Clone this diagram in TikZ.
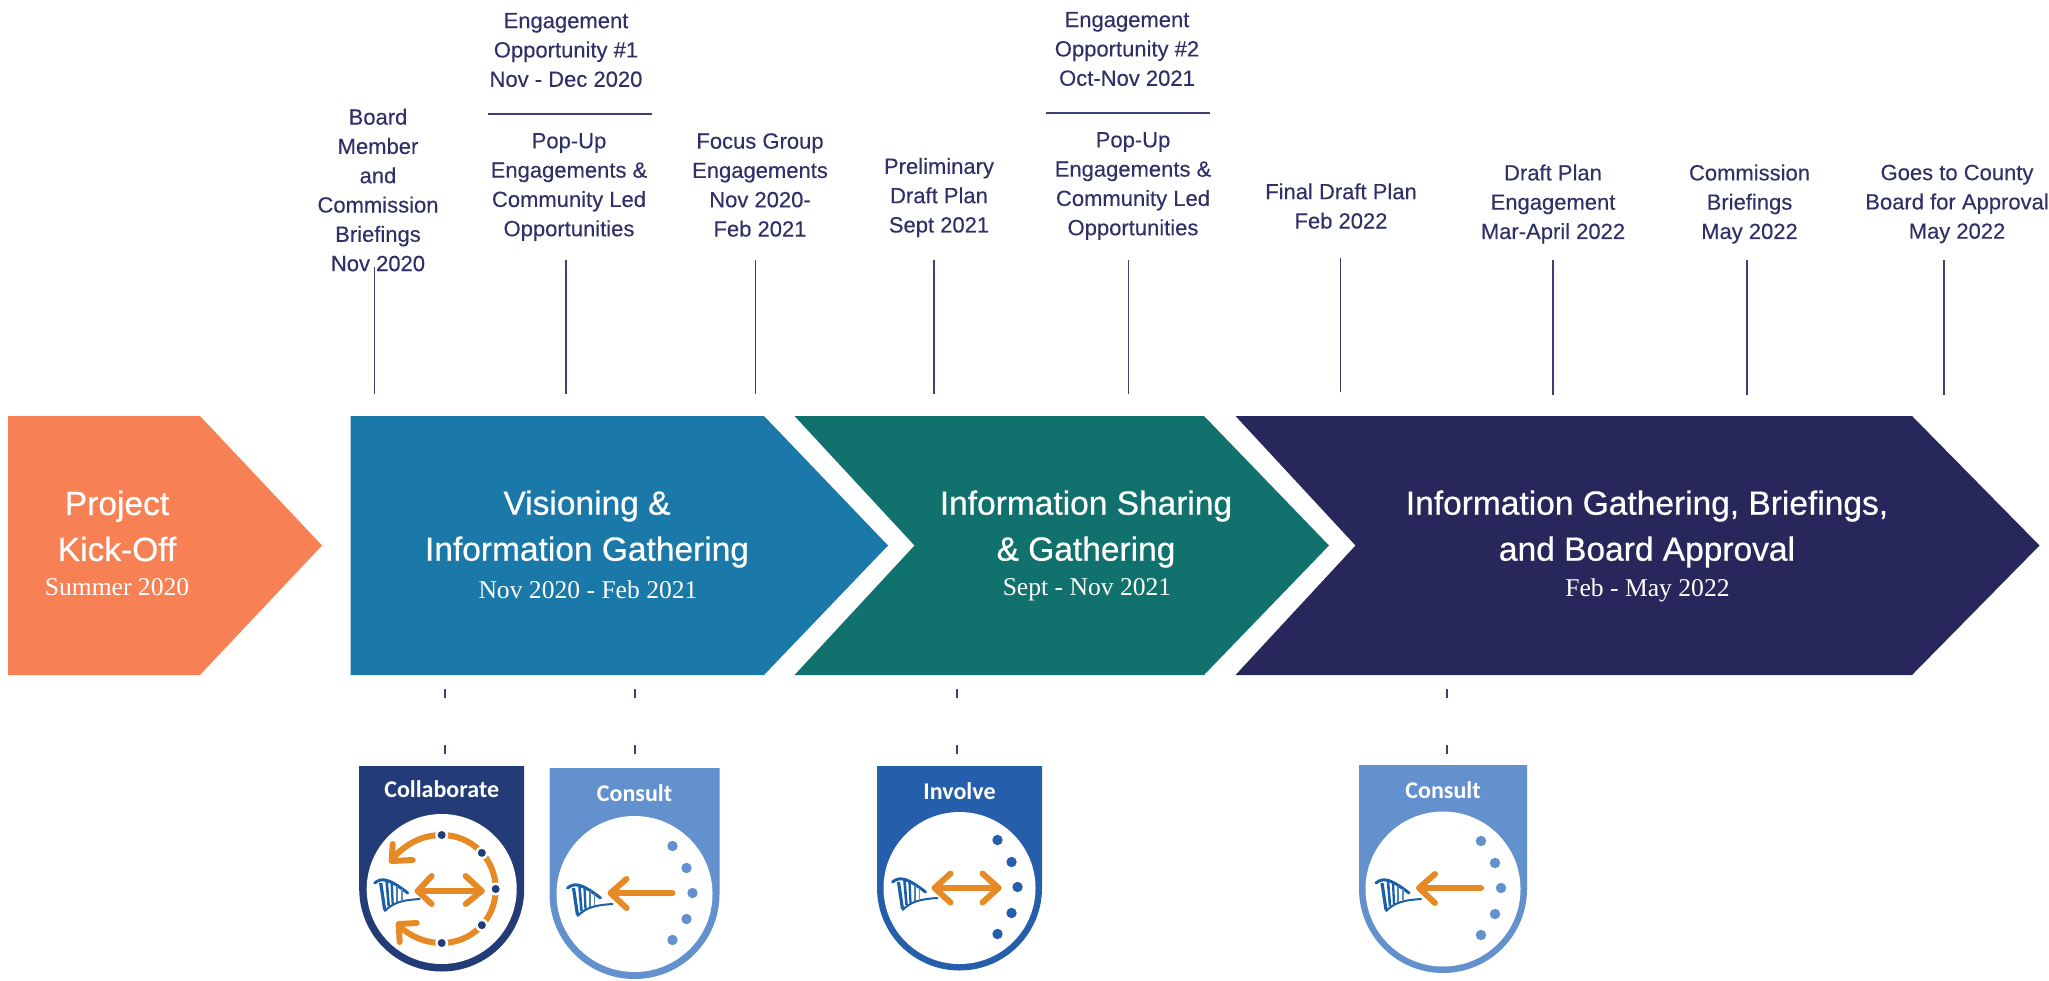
\documentclass[tikz,border=0pt]{standalone}
\usepackage{fontspec}
\usepackage{xcolor}
\usepackage{tikz}
\setmainfont{Liberation Sans}
\newfontfamily\labelfont[FakeBold=0.25]{Liberation Sans}
\newfontfamily\headfont[FakeBold=0.6]{Liberation Sans}
\newfontfamily\subfont{Liberation Serif}
\newfontfamily\badgefont{Carlito}
\definecolor{kickoff}{HTML}{F78154}
\definecolor{vision}{HTML}{1B79A9}
\definecolor{sharing}{HTML}{10716D}
\definecolor{approval}{HTML}{28275B}
\definecolor{inktext}{HTML}{2F3068}
\definecolor{tickline}{HTML}{3D4074}
\definecolor{collabcol}{HTML}{233C78}
\definecolor{consultcol}{HTML}{6391CD}
\definecolor{involvecol}{HTML}{255FAB}
\definecolor{arrowcol}{HTML}{E68A25}
\definecolor{logocol}{HTML}{1B5FA8}
\tikzset{
	toplabel/.style={text=inktext, align=center, inner sep=0pt, font=\labelfont\fontsize{22}{29.3}\selectfont},
	headlabel/.style={text=white, align=center, inner sep=0pt, font=\headfont\fontsize{33.5}{46}\selectfont},
	sublabel/.style={text=white, inner sep=0pt, font=\subfont\fontsize{25.6}{30}\selectfont},
	ticktop/.style={draw=tickline, line width=1.3pt},
	tickbelow/.style={draw=tickline, line width=1.3pt, dash pattern=on 9pt off 47pt},
	orangeline/.style={draw=arrowcol, line width=6pt, line cap=round, line join=round},
	badgelabel/.style={text=white, inner sep=0pt, font=\badgefont\bfseries\fontsize{24}{28}\selectfont}
}
% logo in the badge, origin at the centre of the white circle
\newcommand{\capitollogo}{
	\draw[logocol, line width=3pt, line cap=round] (-67,-6) .. controls (-60,-12) and (-52,-10) .. (-34,4);
	\draw[logocol, line width=3.2pt] (-61,-6) -- (-57,21);
	\draw[logocol, line width=2.6pt] (-55,-7) -- (-53,17);
	\draw[logocol, line width=2.3pt] (-50,-6) -- (-49,15);
	\draw[logocol!80, line width=2pt] (-45,-3) -- (-45,13);
	\draw[logocol!70, line width=1.7pt] (-40,0) -- (-40,11);
	\draw[logocol, line width=2pt, line cap=round] (-57,22) .. controls (-48,13) and (-38,11) .. (-22,10);
}
% arrow to the left only
\newcommand{\inarrow}{
	\draw[orangeline] (-23,-1) -- (38,-1);
	\draw[orangeline] (-8,-15) -- (-24,-1) -- (-8,14);
}
% arrow both ways
\newcommand{\botharrow}{
	\draw[orangeline] (-24,0) -- (39,0);
	\draw[orangeline] (-9,-14.5) -- (-25,0) -- (-9,14.5);
	\draw[orangeline] (23,-14.5) -- (39,0) -- (23,14.5);
}
% dots of the public at the right
\newcommand{\publicdots}[1]{
	\foreach \x/\y in {38/-48, 52/-26, 58/-1, 52/25, 38/46}
	\fill[#1] (\x,\y) circle (5.2);
}
% #1 x, #2 y of the circle, #3 outer radius, #4 top, #5 white radius, #6 colour, #7 name, #8 text, #9 text y
\newcommand{\badge}[9]{
	\fill[#6] (#1-#3,#4) -- (#1+#3,#4) -- (#1+#3,#2) .. controls (#1+#3,#2+0.5523*#3) and (#1+0.5523*#3,#2+#3) .. (#1,#2+#3) .. controls (#1-0.5523*#3,#2+#3) and (#1-#3,#2+0.5523*#3) .. (#1-#3,#2) -- cycle;
	\fill[white] (#1,#2) circle (#5);
	\node[badgelabel] (#7) at (#1,#9) {#8};
}
\begin{document}
\begin{tikzpicture}[x=1pt, y=-1pt]
	\useasboundingbox (0,0) rectangle (2049,980);
	
	\fill[kickoff] (8,416) -- (200,416) -- (322,545.5) -- (200,675) -- (8,675) -- cycle;
	\fill[vision] (350.5,416) -- (764,416) -- (888,545.5) -- (764,675) -- (350.5,675) -- cycle;
	\fill[sharing] (794.5,416) -- (1204,416) -- (1329,545.5) -- (1204,675) -- (794.5,675) -- (914.5,545.5) -- cycle;
	\fill[approval] (1235.5,416) -- (1912,416) -- (2039.5,545.5) -- (1912,675) -- (1235.5,675) -- (1355.5,545.5) -- cycle;
	
	\node[headlabel] (kickoffname) at (117,526) {Project\\Kick-Off};
	\node[sublabel] (kickoffdate) at (117,587) {Summer 2020};
	\node[headlabel] (visionname) at (587,529) {Visioning \&\\Information Gathering};
	\node[sublabel] (visiondate) at (588,590) {Nov 2020 - Feb 2021};
	\node[headlabel] (sharingname) at (1086,529) {Information Sharing\\\& Gathering};
	\node[sublabel] (sharingdate) at (1087,590) {Sept - Nov 2021};
	\node[headlabel] (approvalname) at (1647,529) {Information Gathering, Briefings,\\and Board Approval};
	\node[sublabel] (approvaldate) at (1647.5,590) {Feb - May 2022};
	
	\node[toplabel] (board) at (378,190) {Board\\Member\\and\\Commission\\Briefings\\Nov 2020};
	\node[toplabel] (engageone) at (566,50) {Engagement\\Opportunity \#1\\Nov - Dec 2020};
	\node[toplabel] (popupone) at (569,187) {Pop-Up\\Engagements \&\\Community Led\\Opportunities};
	\node[toplabel] (focus) at (760,185) {Focus Group\\Engagements\\Nov 2020-\\Feb 2021};
	\node[toplabel] (prelim) at (939,197.5) {Preliminary\\Draft Plan\\Sept 2021};
	\node[toplabel] (engagetwo) at (1127,49) {Engagement\\Opportunity \#2\\Oct-Nov 2021};
	\node[toplabel] (popuptwo) at (1133,186) {Pop-Up\\Engagements \&\\Community Led\\Opportunities};
	\node[toplabel] (final) at (1341,206) {Final Draft Plan\\Feb 2022};
	\node[toplabel] (draftplan) at (1553,204) {Draft Plan\\Engagement\\Mar-April 2022};
	\node[toplabel] (commission) at (1749.5,204) {Commission\\Briefings\\May 2022};
	\node[toplabel] (county) at (1957,204) {Goes to County\\Board for Approval\\May 2022};
	
	\coordinate (ruleonea) at (488,114);
	\coordinate (ruleoneb) at (652,114);
	\coordinate (ruletwoa) at (1045.5,113);
	\coordinate (ruletwob) at (1209.5,113);
	\draw[ticktop] (ruleonea) -- (ruleoneb);
	\draw[ticktop] (ruletwoa) -- (ruletwob);
	
	\foreach \n/\x/\ya/\yb in {a/374.6/267/394, b/566/260/394, c/755.4/260/394, d/934/260/394, e/1128.6/260/394, f/1340.7/258/392, g/1553/260/395, h/1747/260/395, i/1944/260/395}
	{
		\coordinate (tick\n top) at (\x,\ya);
		\coordinate (tick\n end) at (\x,\yb);
		\draw[ticktop] (tick\n top) -- (tick\n end);
	}
	
	\foreach \n/\x in {a/445, b/635, c/957, d/1447}
	{
		\coordinate (below\n top) at (\x,689);
		\coordinate (below\n end) at (\x,754);
		\draw[tickbelow] (below\n top) -- (below\n end);
	}
	
	\badge{441.7}{889}{82.5}{766}{75}{collabcol}{collaborate}{Collaborate}{789}
	\badge{634.5}{894}{85}{768}{78}{consultcol}{consultone}{Consult}{793}
	\badge{959.5}{888}{82.5}{766}{76}{involvecol}{involve}{Involve}{791}
	\badge{1443}{889}{84}{765}{77.5}{consultcol}{consulttwo}{Consult}{790}
	
	\begin{scope}[shift={(441.7,889)}]
		\capitollogo
		\draw[orangeline] (-24,2) -- (40,2);
		\draw[orangeline] (-10,-13) -- (-24,2) -- (-10,15);
		\draw[orangeline] (24,-13) -- (40,2) -- (24,15);
		\draw[orangeline] (-47,-33) .. controls (-32,-48) and (-16,-54) .. (0,-54) .. controls (30,-54) and (54,-30) .. (54,0) .. controls (54,30) and (30,54) .. (0,54) .. controls (-16,54) and (-30,48) .. (-43,37);
		\draw[orangeline] (-49,-45) -- (-50,-28) -- (-29,-29);
		\draw[orangeline] (-42,53) -- (-43,35) -- (-25,34);
		\foreach \a in {-90,-42,0,42,90}
		{
			\fill[white] (\a:54) circle (6.5);
			\fill[collabcol] (\a:54) circle (4);
		}
	\end{scope}
	
	\begin{scope}[shift={(634.5,894)}]
		\capitollogo
		\inarrow
		\publicdots{consultcol}
	\end{scope}
	
	\begin{scope}[shift={(959.5,888)}]
		\capitollogo
		\botharrow
		\publicdots{involvecol}
	\end{scope}
	
	\begin{scope}[shift={(1443,889)}]
		\capitollogo
		\inarrow
		\publicdots{consultcol}
	\end{scope}
	
\end{tikzpicture}
\end{document}
